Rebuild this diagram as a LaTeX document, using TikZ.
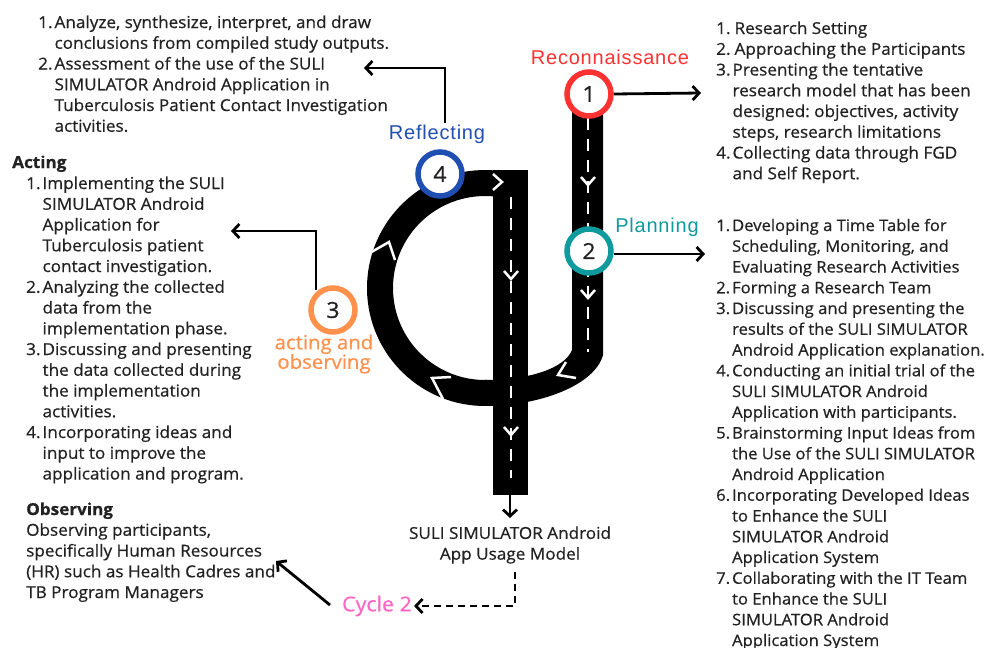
\documentclass[tikz,border=0pt]{standalone}
\usepackage{fontspec}
\setmainfont{Open Sans}[FakeStretch=1.045, FakeBold=0.6]
\newfontfamily\labfont[LetterSpace=4]{Liberation Sans}
\usetikzlibrary{arrows.meta}
\definecolor{rred}{HTML}{FF3131}
\definecolor{tteal}{HTML}{0F9A9E}
\definecolor{bblue}{HTML}{1F4FB3}
\definecolor{oorange}{HTML}{FF914D}
\definecolor{ppink}{HTML}{FF66C4}
\definecolor{txt}{HTML}{222222}
\tikzset{
  lst/.style={inner sep=0pt, text=txt, font=\fontsize{16.4}{20.75}\selectfont},
  lstsmall/.style={inner sep=0pt, text=txt, font=\fontsize{15.9}{20.75}\selectfont},
  circ/.style={circle, fill=white, line width=5.5pt, minimum size=44pt, inner sep=0pt, text=txt, font=\fontsize{22}{22}\selectfont},
  phase/.style={inner sep=1pt, font=\labfont\fontsize{20}{20}\selectfont},
  arr/.style={line width=2.8pt, -{Straight Barb[length=6.5pt,width=14pt,line width=2.8pt]}},
  darr/.style={line width=2.8pt, dash pattern=on 7pt off 5pt, -{Straight Barb[length=6.5pt,width=14pt,line width=2.8pt]}},
  roadmark/.style={white, line width=2.5pt},
  notch/.style={white, line width=2.5pt, line join=miter},
}
\begin{document}
\frenchspacing
\begin{tikzpicture}[x=1pt,y=-1pt]
\useasboundingbox[fill=white] (0,0) rectangle (989,648);

% ---------- roads ----------
% right road from 1 down, curving into the bottom of the ring
\fill[black] (603,108) -- (603,355) .. controls (595,385) and (540,406) .. (485,406)
  -- (485,380) .. controls (530,380) and (565,368) .. (572,350) -- (572,108) -- cycle;
% ring
\draw[line width=26pt, black] (485,288) ++(89:105) arc[start angle=89, end angle=291, radius=105];
% central road
\fill[black] (493,170) rectangle (528,495);

% road markings
\draw[roadmark, dash pattern=on 12pt off 9pt] (511,197) -- (511,478);
\draw[roadmark, dash pattern=on 12pt off 9pt] (588,118) -- (588,352);
\draw[roadmark] (504,271) -- (511,279) -- (518,271);
\draw[roadmark] (504,427) -- (511,435) -- (518,427);
\draw[roadmark] (581,177) -- (588,185) -- (595,177);
\draw[roadmark] (581,290) -- (588,298) -- (595,290);
\draw[roadmark] (493,174) -- (502,182) -- (493,190);
\draw[notch] (368,254) -- (389,242) -- (395,260);
\draw[notch] (451,377) -- (432,378) -- (443,399);
\draw[notch] (566,362) -- (558,375) -- (576,378);

% ---------- phase circles ----------
\node[circ, draw=rred] (c1) at (589,94) {1};
\node[circ, draw=tteal] (c2) at (589,251) {2};
\node[circ, draw=bblue] (c4) at (440,174) {4};
\node[circ, draw=oorange] (c3) at (333,310) {3};

\node[phase, text=rred] (l1) at (610,57) {Reconnaissance};
\node[phase, text=tteal] (l2) at (657,227) {Planning};
\node[phase, text=bblue] (l4) at (437,134) {Reflecting};
\node[inner sep=0pt, text=oorange, align=center, font=\fontsize{19.5}{19.5}\selectfont] (l3) at (324,354) {acting and\\observing};

% ---------- connectors ----------
\coordinate (e1) at (701,93);
\draw[arr] (c1.east) -- (e1);
\coordinate (e2) at (705,254);
\draw[arr] (c2.east |- e2) -- (e2);
\coordinate (s4) at (445,123);
\coordinate (e4) at (364,68);
\draw[arr, line width=2.5pt] (s4) |- (e4);
\coordinate (s3) at (316,290);
\coordinate (e3) at (231,231);
\draw[arr, line width=2.5pt] (s3) |- (e3);

\coordinate (roadend) at (510,494);
\node[inner sep=0pt, text=txt, align=center, font=\fontsize{16.4}{20.75}\selectfont] (model) at (510,545) {SULI SIMULATOR Android\\App Usage Model};
\draw[arr] (roadend) -- (510,518);
\node[inner sep=2pt, text=ppink, font=\fontsize{20.5}{20.5}\selectfont] (cyc) at (377,606) {Cycle 2};
\coordinate (ds) at (515,572);
\draw[darr] (ds) |- (cyc.east);
\coordinate (ob) at (276,561);
\coordinate (cs) at (330,605);
\draw[arr] (cs) -- (ob);

% ---------- text lists ----------
\node[lst, anchor=base west] (tl) at (38,28) {\begin{tabular}[t]{@{}r@{\hspace{2pt}}l@{}}
1. & Analyze, synthesize, interpret, and draw\\
 & conclusions from compiled study outputs.\\
2. & Assessment of the use of the SULI\\
 & SIMULATOR Android Application in\\
 & Tuberculosis Patient Contact Investigation\\
 & activities.
\end{tabular}};

\node[lst, anchor=base west] (act) at (12,168) {\textbf{Acting}};
\node[lst, anchor=base west] (actl) at (26,189) {\begin{tabular}[t]{@{}r@{\hspace{2pt}}l@{}}
1. & Implementing the SULI\\
 & SIMULATOR Android\\
 & Application for\\
 & Tuberculosis patient\\
 & contact investigation.\\
2. & Analyzing the collected\\
 & data from the\\
 & implementation phase.\\
3. & Discussing and presenting\\
 & the data collected during\\
 & the implementation\\
 & activities.\\
4. & Incorporating ideas and\\
 & input to improve the\\
 & application and program.
\end{tabular}};

\node[lst, anchor=base west] (obs) at (26,515) {\begin{tabular}[t]{@{}l@{}}
\textbf{Observing}\\
Observing participants,\\
specifically Human Resources\\
(HR) such as Health Cadres and\\
TB Program Managers
\end{tabular}};

\node[lst, anchor=base west] (rt) at (716,34) {\begin{tabular}[t]{@{}r@{\hspace{2pt}}l@{}}
1. & \hspace{2pt}Research Setting\\
2. & \hspace{2pt}Approaching the Participants\\
3. & Presenting the tentative\\
 & research model that has been\\
 & designed: objectives, activity\\
 & steps, research limitations\\
4. & Collecting data through FGD\\
 & and Self Report.
\end{tabular}};

\node[lstsmall, anchor=base west] (rb) at (716,231) {\begin{tabular}[t]{@{}r@{\hspace{2pt}}l@{}}
1. & Developing a Time Table for\\
 & Scheduling, Monitoring, and\\
 & Evaluating Research Activities\\
2. & Forming a Research Team\\
3. & Discussing and presenting the\\
 & results of the SULI SIMULATOR\\
 & Android Application explanation.\\
4. & Conducting an initial trial of the\\
 & SULI SIMULATOR Android\\
 & Application with participants.\\
5. & Brainstorming Input Ideas from\\
 & the Use of the SULI SIMULATOR\\
 & Android Application\\
6. & Incorporating Developed Ideas\\
 & to Enhance the SULI\\
 & SIMULATOR Android\\
 & Application System\\
7. & Collaborating with the IT Team\\
 & to Enhance the SULI\\
 & SIMULATOR Android\\
 & Application System
\end{tabular}};
\end{tikzpicture}
\end{document}
